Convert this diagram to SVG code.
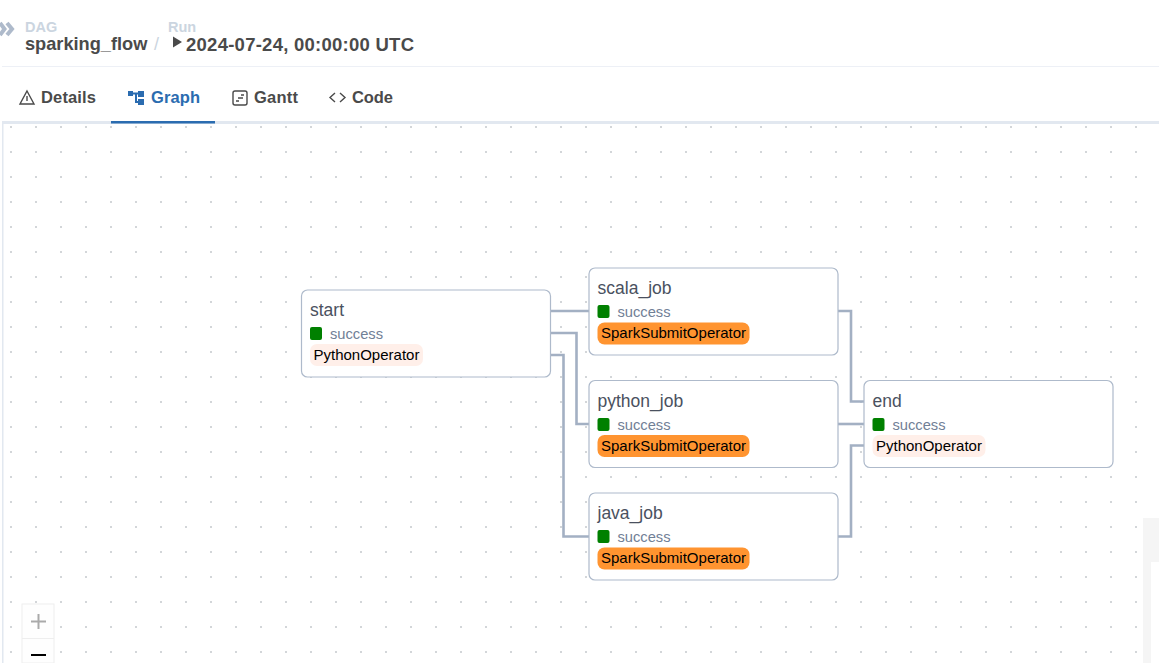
<svg xmlns="http://www.w3.org/2000/svg" width="1159" height="663" viewBox="0 0 1159 663">
<style>
text{font-family:"Liberation Sans",Arial,sans-serif}
.box{fill:#fff;stroke:#aebacb;stroke-width:1.2}
.name{font-size:17.5px;fill:#4a5160}
.st{font-size:14.7px;fill:#718096}
.sq{fill:#008000}
.op{font-size:15px;fill:#000}
.py{fill:#ffefe9}
.sp{fill:#ff9430}
.edge{fill:none;stroke:#a3b0c3;stroke-width:2.6}
.tab{font-size:16.5px;font-weight:700;fill:#4a4a4a}
.ico{fill:none;stroke:#4a4a4a;stroke-width:1.4}
</style>
<defs>
<pattern id="dots" x="0" y="2" width="25" height="25" patternUnits="userSpaceOnUse"><circle cx="11" cy="0" r="1" fill="#c4c8cc"/><circle cx="11" cy="25" r="1" fill="#c4c8cc"/></pattern>
</defs>
<rect width="1159" height="663" fill="#fff"/>
<g id="header">
<path d="M0 23l4.500 6-4.500 6M7 23l5 6-5 6" fill="none" stroke="#aebacb" stroke-width="4"/>
<text x="25" y="32" font-size="14.500" font-weight="700" fill="#cbd5e0">DAG</text>
<text x="25" y="50" font-size="18.200" font-weight="700" fill="#4a4a4a">sparking_flow</text>
<text x="154" y="50" font-size="18" fill="#cbd5e0">/</text>
<text x="168" y="32" font-size="14.500" font-weight="700" fill="#cbd5e0">Run</text>
<path d="M173 36.500l9 5.500-9 5.500z" fill="#4a4a4a"/>
<text x="186" y="50.500" font-size="18.500" font-weight="700" fill="#4a4a4a" textLength="228" lengthAdjust="spacing">2024-07-24, 00:00:00 UTC</text>
<path d="M2 66.500H1159" stroke="#edf0f6" stroke-width="1"/>
</g>
<g id="tabs">
<path d="M27 91l7 13H20z" class="ico"/><path d="M27 96v5" class="ico"/>
<text x="41" y="103" class="tab" textLength="55" lengthAdjust="spacing">Details</text>
<path d="M128 91h5v5h-5zM138 91h6v6h-6zM138 99h6v6h-6z" fill="#2b6cb0"/><path d="M133 93.500h5M136 94v8h3" stroke="#2b6cb0" stroke-width="2" fill="none"/>
<text x="151" y="103" class="tab" style="fill:#2b6cb0" textLength="49" lengthAdjust="spacing">Graph</text>
<rect x="233" y="91" width="14" height="14" rx="2" class="ico"/><path d="M241 95h3M238 98h5M236 101h3" class="ico"/>
<text x="254" y="103" class="tab" textLength="44" lengthAdjust="spacing">Gantt</text>
<path d="M335 93l-5 4.500 5 4.500M340 93l5 4.500-5 4.500" class="ico"/>
<text x="352" y="103" class="tab" textLength="41" lengthAdjust="spacing">Code</text>
<rect x="2" y="121" width="1157" height="3" fill="#e2e8f0"/>
<rect x="111" y="121" width="104" height="2.500" fill="#2b6cb0"/>
<rect x="2" y="124" width="1.500" height="539" fill="#e2e8f0"/>
</g>
<rect id="canvas" x="4" y="124" width="1155" height="539" fill="url(#dots)"/>
<g id="minimap"><path d="M1143 518h16v44h-8v101h-8z" fill="#f5f5f5"/></g>
<g id="connectors">
<path class="edge" d="M550 311H589"/>
<path class="edge" d="M550 333H576.500V424H589"/>
<path class="edge" d="M550 355H563.500V536.500H589"/>
<path class="edge" d="M838 311H851V401.500H864"/>
<path class="edge" d="M838 424H864"/>
<path class="edge" d="M838 536.500H851V445.500H864"/>
</g>
<g id="start">
<rect class="box" x="301.500" y="290" width="249" height="87" rx="6"/>
<text class="name" x="310" y="316">start</text>
<rect class="sq" x="310" y="327" width="12" height="13" rx="2"/>
<text class="st" x="330" y="339">success</text>
<rect class="py" x="310" y="344" width="113" height="22" rx="7"/>
<text class="op" x="313.500" y="360">PythonOperator</text>
</g>
<g id="scala_job">
<rect class="box" x="589" y="268" width="249" height="87" rx="6"/>
<text class="name" x="597.500" y="294" textLength="74" lengthAdjust="spacing">scala_job</text>
<rect class="sq" x="597.500" y="305" width="12" height="13" rx="2"/>
<text class="st" x="617.500" y="317">success</text>
<rect class="sp" x="597.500" y="322.500" width="152" height="22" rx="7"/>
<text class="op" x="601" y="338">SparkSubmitOperator</text>
</g>
<g id="python_job">
<rect class="box" x="589" y="380.500" width="249" height="87" rx="6"/>
<text class="name" x="597.500" y="407">python_job</text>
<rect class="sq" x="597.500" y="418" width="12" height="13" rx="2"/>
<text class="st" x="617.500" y="430">success</text>
<rect class="sp" x="597.500" y="435" width="152" height="22" rx="7"/>
<text class="op" x="601" y="451">SparkSubmitOperator</text>
</g>
<g id="java_job">
<rect class="box" x="589" y="493" width="249" height="87" rx="6"/>
<text class="name" x="597.500" y="519">java_job</text>
<rect class="sq" x="597.500" y="530" width="12" height="13" rx="2"/>
<text class="st" x="617.500" y="542">success</text>
<rect class="sp" x="597.500" y="547.500" width="152" height="22" rx="7"/>
<text class="op" x="601" y="563">SparkSubmitOperator</text>
</g>
<g id="end">
<rect class="box" x="864" y="380.500" width="249" height="87" rx="6"/>
<text class="name" x="872.500" y="407">end</text>
<rect class="sq" x="872.500" y="418" width="12" height="13" rx="2"/>
<text class="st" x="892.500" y="430">success</text>
<rect class="py" x="872.500" y="435" width="113" height="22" rx="7"/>
<text class="op" x="876" y="451">PythonOperator</text>
</g>
<g id="zoom-controls">
<rect x="22" y="604" width="32" height="59" fill="#fefefe" stroke="#eeeeee" stroke-width="1"/>
<path d="M22 638.500H54" stroke="#eeeeee" stroke-width="1"/>
<path d="M31 621.500H46M38.500 614V629" stroke="#aaaaaa" stroke-width="2"/>
<path d="M31 655H46" stroke="#000" stroke-width="2"/>
</g>
</svg>
